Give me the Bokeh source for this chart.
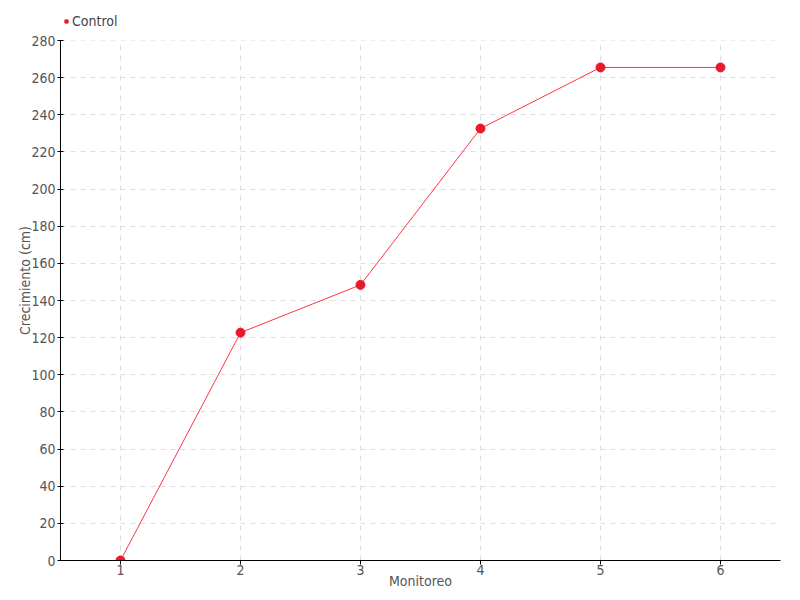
from bokeh.plotting import figure
from bokeh.models import Legend, LegendItem, Range1d, FixedTicker, BoxAnnotation
from bokeh.embed import file_html
from bokeh.resources import INLINE

monitoreo = [1, 2, 3, 4, 5, 6]
control = [0, 122.7, 148.4, 232.6, 265.5, 265.5]
y_ticks = list(range(0, 281, 20))
y_max = 280

FONT = "DejaVu Sans Condensed, Roboto, sans-serif"
RED = "#e8192c"

# frame extends 40px above the last tick so the legend can sit there
p = figure(frame_width=720, frame_height=560, output_backend="svg", toolbar_location=None,
           x_range=Range1d(0.5, 6.5), y_range=Range1d(0, y_max * 560 / 520),
           min_border_left=60, min_border_right=20, min_border_bottom=40, min_border_top=0)

# mask grid above the top tick
p.add_layout(BoxAnnotation(bottom=y_max, fill_color="white", fill_alpha=1, line_color=None, level="underlay"))

line = p.line(monitoreo, control, line_color="#ff3344", line_width=1)
pts = p.scatter(monitoreo, control, size=9, fill_color=RED, line_color=RED)
sq = p.scatter([monitoreo[0]], [control[0]], marker="square", size=7, fill_color=RED, line_color=RED, visible=False)

legend = Legend(items=[LegendItem(label="Control", renderers=[sq])], location=(2, 531),
                orientation="horizontal", border_line_color=None, background_fill_alpha=0,
                label_text_font=FONT, label_text_font_size="14px", label_text_color="#444444",
                glyph_width=8, glyph_height=8, padding=0, margin=0, label_standoff=2,
                label_height=14, spacing=0)
p.add_layout(legend)

p.xaxis.ticker = FixedTicker(ticks=monitoreo)
p.yaxis.ticker = FixedTicker(ticks=y_ticks)
p.yaxis.bounds = (0, y_max)
p.xaxis.axis_label = "Monitoreo"
p.yaxis.axis_label = "Crecimiento (cm)"
for ax in (p.xaxis, p.yaxis):
    ax.axis_label_text_font = FONT
    ax.axis_label_text_font_style = "normal"
    ax.axis_label_text_font_size = "14px"
    ax.axis_label_text_color = "#555555"
    ax.major_label_text_font = FONT
    ax.major_label_text_font_size = "14px"
    ax.major_label_text_color = "#555555"
    ax.axis_line_color = "black"
    ax.major_tick_line_color = "black"
    ax.minor_tick_line_color = None
p.xaxis.major_tick_in = 0
p.xaxis.major_tick_out = 4
p.yaxis.major_tick_in = 3
p.yaxis.major_tick_out = 3
p.xaxis.axis_label_standoff = -5
p.yaxis.axis_label_standoff = -5
p.xaxis.major_label_standoff = 0
p.yaxis.major_label_standoff = 2

p.xgrid.ticker = FixedTicker(ticks=monitoreo)
p.ygrid.ticker = FixedTicker(ticks=y_ticks)
for g in (p.xgrid, p.ygrid):
    g.grid_line_color = "#dddddd"
    g.grid_line_dash = "5 5"
p.outline_line_color = None

open("out.html", "w").write(file_html(p, INLINE))
